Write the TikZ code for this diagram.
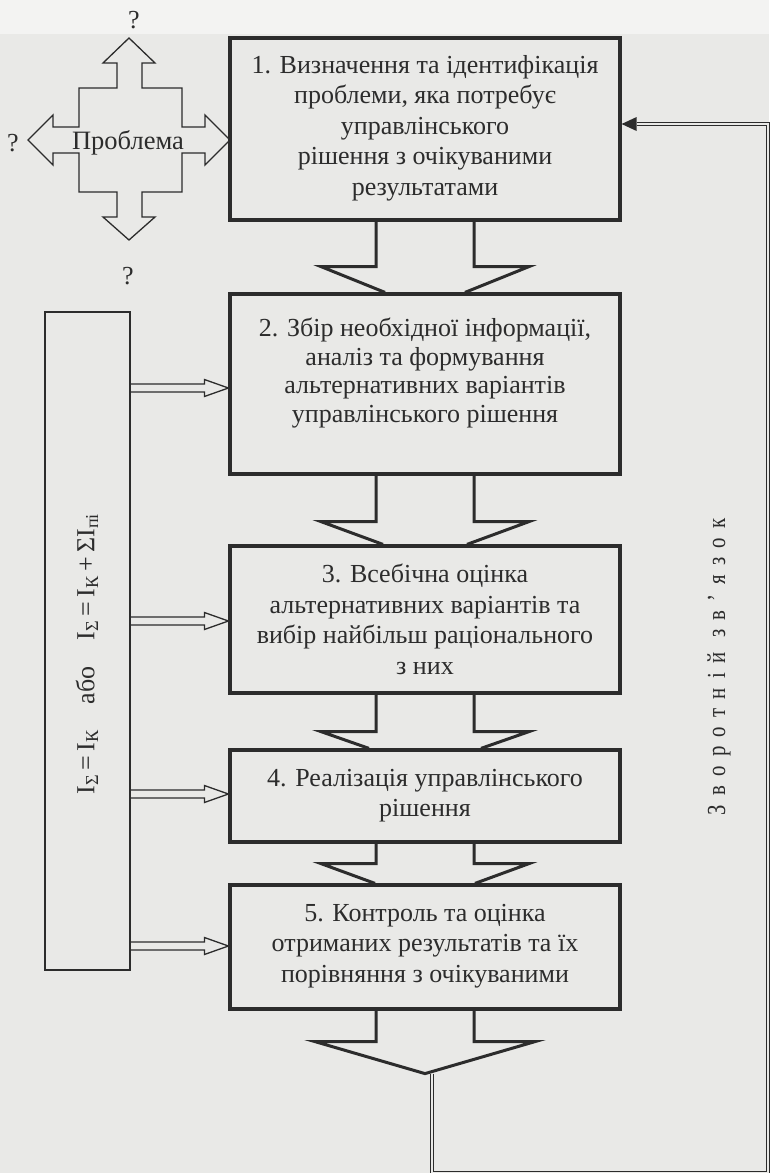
\documentclass[tikz,border=0pt]{standalone}
\usepackage{fontspec}
\setmainfont{Liberation Serif}
\newfontfamily\fbfont[FakeStretch=0.8, LetterSpace=36]{Liberation Serif}
\usetikzlibrary{calc}
\definecolor{paper}{RGB}{233,233,231}
\definecolor{paperlight}{RGB}{243,243,242}
\definecolor{ink}{RGB}{44,44,44}

\newcommand\blockarrow[4]{%
  \draw[blockarr] ($(#1.south)+(-49,0)$) -- ++(0,#3) -- ++(-55,0) -- ($(#2.north)+(-#4,0)$)
                  ($(#2.north)+(#4,0)$) -- ($(#1.south)+(104,#3)$) -- ++(-55,0) -- ($(#1.south)+(49,0)$);}
\newcommand\sidearrow[2]{%
  \draw[thinline] ($(lr.east |- #1.west)+(0,#2-4)$) -- ($(#1.west)+(-24,#2-4)$) -- ($(#1.west)+(-24,#2-8.5)$)
     -- ($(#1.west)+(0,#2)$) -- ($(#1.west)+(-24,#2+8.5)$) -- ($(#1.west)+(-24,#2+4)$) -- ($(lr.east |- #1.west)+(0,#2+4)$);}
\newcommand\lift[1]{\rule[-#1pt]{0pt}{#1pt}}

\begin{document}
\begin{tikzpicture}[x=1pt,y=-1pt,
  boxst/.style={draw=ink, line width=3.2pt, fill=paper, minimum width=390pt, inner sep=0pt,
    align=center, text=ink, font=\fontsize{26}{30.5}\selectfont},
  blockarr/.style={draw=ink, line width=3pt, line join=miter},
  thinline/.style={draw=ink, line width=1.3pt, line join=miter},
  qmark/.style={text=ink, font=\fontsize{26}{28}\selectfont, inner sep=0pt},
  fbline/.style={draw=ink, line width=0.9pt, double=paper, double distance=2.6pt},
]
\fill[paper] (0,0) rectangle (769,1173);
\fill[paperlight] (0,0) rectangle (769,34);
\useasboundingbox (0,0) rectangle (769,1173);

% problem cross
\draw[thinline, fill=paper] (129,38) -- (155,63) -- (142,63) -- (142,88) -- (182,88) -- (182,127) -- (205,127)
  -- (205,115) -- (230,140) -- (205,165) -- (205,153) -- (182,153) -- (182,192) -- (142,192) -- (142,217)
  -- (155,217) -- (129,240) -- (103,217) -- (117,217) -- (117,192) -- (79,192) -- (79,153) -- (53,153)
  -- (53,165) -- (28,140) -- (53,115) -- (53,127) -- (79,127) -- (79,88) -- (117,88) -- (117,63)
  -- (103,63) -- cycle;
\node[text=ink, font=\fontsize{26.5}{28}\selectfont, inner sep=0pt] (prob) at (128,143) {Проблема};
\node[qmark] (q1) at (134,20) {?};
\node[qmark] (q2) at (13,143) {?};
\node[qmark] (q3) at (128,276) {?};

% main boxes
\node[boxst, minimum height=182pt] (b1) at (425,129)
  {1. Визначення та ідентифікація\\проблеми, яка потребує\\управлінського\\рішення з очікуваними\\результатами\lift{8}};
\node[boxst, minimum height=180pt, font=\fontsize{26}{28.5}\selectfont] (b2) at (425,384)
  {2. Збір необхідної інформації,\\аналіз та формування\\альтернативних варіантів\\управлінського рішення\lift{28}};
\node[boxst, minimum height=147pt] (b3) at (425,619.5)
  {3. Всебічна оцінка\\альтернативних варіантів та\\вибір найбільш раціонального\\з них};
\node[boxst, minimum height=92pt] (b4) at (425,796)
  {4. Реалізація управлінського\\рішення\lift{6}};
\node[boxst, minimum height=124pt] (b5) at (425,947)
  {5. Контроль та оцінка\\отриманих результатів та їх\\порівняння з очікуваними\lift{8}};

% block arrows
\blockarrow{b1}{b2}{45}{40}
\blockarrow{b2}{b3}{46}{42}
\blockarrow{b3}{b4}{37}{56}
\blockarrow{b4}{b5}{20}{50}
\coordinate (endtip) at ($(b5.south)+(0,63)$);
\draw[blockarr] ($(b5.south)+(-49,0)$) -- ++(0,31) -- ++(-61,0) -- (endtip)
  -- ($(b5.south)+(110,31)$) -- ++(-61,0) -- ($(b5.south)+(49,0)$);

% left information block
\node[thinline, minimum width=85pt, minimum height=658pt, inner sep=0pt] (lr) at (87.5,641) {};
\node[rotate=90, text=ink, font=\fontsize{26}{28}\selectfont, inner sep=0pt] (formula) at (87,654)
  {I\textsubscript{Σ}\,=\,I\textsubscript{К}\quad або\quad I\textsubscript{Σ}\,=\,I\textsubscript{К}\,+\,ΣI\textsubscript{пі}};
\sidearrow{b2}{4}
\sidearrow{b3}{1.5}
\sidearrow{b4}{-2}
\sidearrow{b5}{-1}

% feedback loop
\coordinate (fbstart) at ($(endtip)+(7,0)$);
\coordinate (fbBL) at (433,1173.5);
\coordinate (fbBR) at (768,1173.5);
\coordinate (fbTR) at (768,124);
\coordinate (fbend) at (b1.east |- fbTR);
\coordinate (fbhead) at ($(fbend)+(15,0)$);
\draw[fbline] (fbstart) -- (fbstart |- fbBL) -- (fbBR) -- (fbTR) -- (fbhead);
\fill[ink] (fbend) -- ($(fbhead)+(0,-7)$) -- ($(fbhead)+(0,7)$) -- cycle;
\node[rotate=90, text=ink, font=\fontsize{26}{28}\fbfont, inner sep=0pt] (fbtext) at (719,667)
  {Зворотній зв’язок};
\end{tikzpicture}
\end{document}
